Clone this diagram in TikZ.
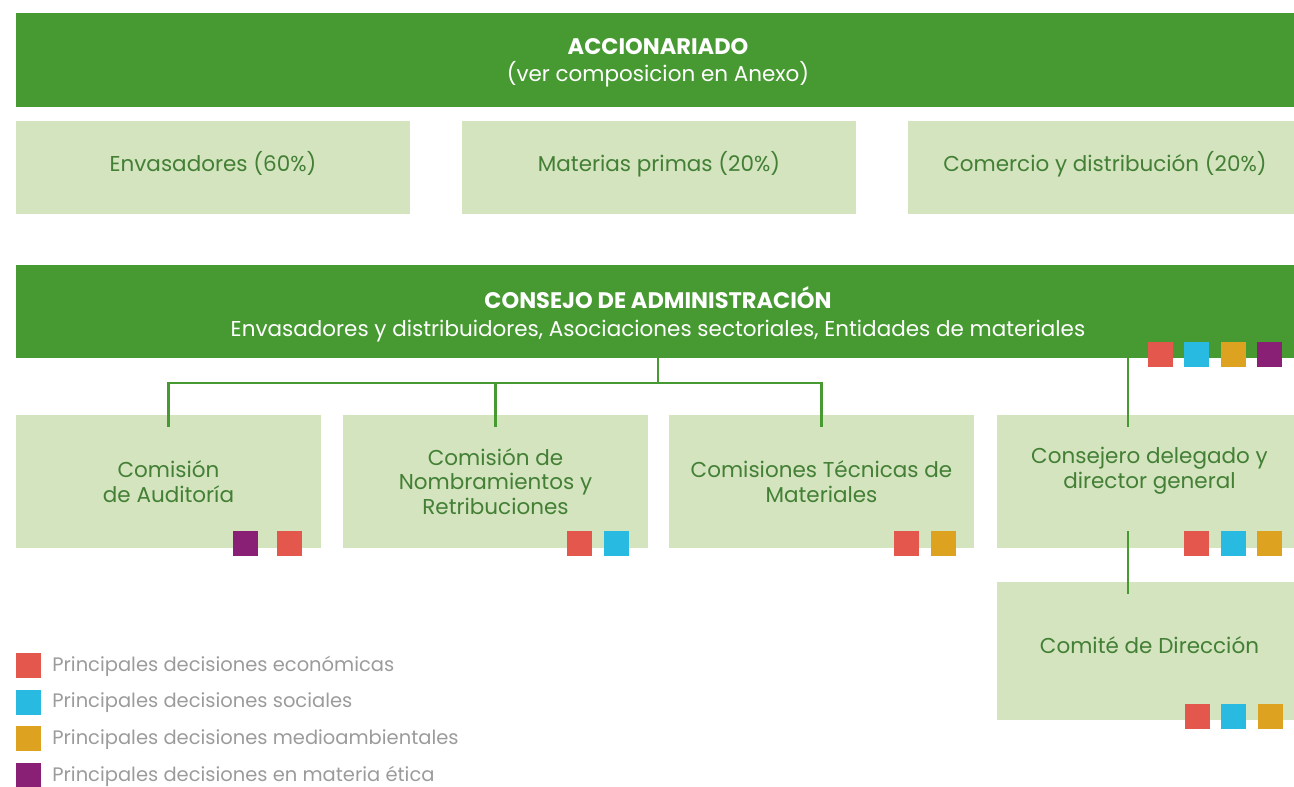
\documentclass[tikz,border=0pt]{standalone}
\usepackage{fontspec}
\setmainfont{Poppins}
\usetikzlibrary{positioning}
\definecolor{bargreen}{HTML}{479A32}
\definecolor{boxgreen}{HTML}{D3E4BE}
\definecolor{txtgreen}{HTML}{437F35}
\definecolor{keyred}{HTML}{E3574D}
\definecolor{keyblue}{HTML}{29BAE1}
\definecolor{keyyellow}{HTML}{DDA220}
\definecolor{keypurple}{HTML}{8A1F76}
\definecolor{keygray}{HTML}{9B9B9B}
\begin{document}
\begin{tikzpicture}[x=1pt,y=-1pt,
    bar/.style={fill=bargreen,text=white,align=center,inner sep=0pt,minimum width=1284pt,text depth=0pt,font=\fontsize{21.5}{27.5}\selectfont},
    box/.style={fill=boxgreen,text=txtgreen,align=center,inner sep=0pt,font=\fontsize{21.5}{24.5}\selectfont},
    sq/.style={minimum size=25pt,inner sep=0pt},
    link/.style={draw=bargreen,line width=2.4pt}]
\useasboundingbox (0,0) rectangle (1294,787);

\node[bar,minimum height=94pt,text depth=-5pt] (acc) at (658,60) {{\fontsize{22.5}{27.5}\selectfont\bfseries ACCIONARIADO}\\(ver composicion en Anexo)};
\node[bar,minimum height=93pt] (cons) at (658,311.5) {{\fontsize{22.5}{27.5}\selectfont\bfseries CONSEJO DE ADMINISTRACIÓN}\\Envasadores y distribuidores, Asociaciones sectoriales, Entidades de materiales};

\begin{scope}[every node/.style={box,minimum width=394pt,minimum height=93pt,text depth=12pt}]
    \node (env) at (213,167.5) {Envasadores (60\%)};
    \node (mat) at (659,167.5) {Materias primas (20\%)};
    \node (com) at (1105,167.5) {Comercio y distribución (20\%)};
\end{scope}

\begin{scope}[every node/.style={box,minimum width=305pt,minimum height=133pt}]
    \node (aud) at (168.5,481.5) {Comisión\\de Auditoría};
    \node (nom) at (495.5,481.5) {Comisión de\\Nombramientos y\\Retribuciones};
    \node (tec) at (821.5,481.5) {Comisiones Técnicas de\\Materiales};
    \node[text depth=27pt] (cde) at (1149.5,481.5) {Consejero delegado y\\director general};
    \node[minimum height=138pt,text depth=11pt] (dir) at (1149.5,651) {Comité de Dirección};
\end{scope}

% conexiones
\coordinate (fork) at ([yshift=-25pt]cons.south);
\coordinate (cdein) at ([xshift=-21.5pt,yshift=-12pt]cde.north);
\draw[link] (cons.south) -- (fork);
\draw[link] (fork) -| ([yshift=-12pt]aud.north);
\draw[link] (fork) -| ([yshift=-12pt]nom.north);
\draw[link] (fork) -| ([yshift=-12pt]tec.north);
\draw[link] (cons.south -| cdein) -- (cdein);
\draw[link] ([xshift=-21.5pt,yshift=17pt]cde.south) -- ([xshift=-21.5pt,yshift=-12pt]dir.north);

% tipos de decision
\begin{scope}[every node/.style={sq}]
    \node[fill=keyred] (consA) at (1160.5,354) {};
    \node[fill=keyblue] (consB) at (1196.5,354) {};
    \node[fill=keyyellow] (consC) at (1233.5,354) {};
    \node[fill=keypurple] (consD) at (1269.5,354) {};
    \node[fill=keypurple] (audA) at (245.5,543.5) {};
    \node[fill=keyred] (audB) at (289.5,543.5) {};
    \node[fill=keyred] (nomA) at (579.5,543.5) {};
    \node[fill=keyblue] (nomB) at (616.5,543.5) {};
    \node[fill=keyred] (tecA) at (906.5,543.5) {};
    \node[fill=keyyellow] (tecB) at (943.5,543.5) {};
    \node[fill=keyred] (cdeA) at (1196.5,543.5) {};
    \node[fill=keyblue] (cdeB) at (1233.5,543.5) {};
    \node[fill=keyyellow] (cdeC) at (1269.5,543.5) {};
    \node[fill=keyred] (dirA) at (1197.5,716.5) {};
    \node[fill=keyblue] (dirB) at (1233.5,716.5) {};
    \node[fill=keyyellow] (dirC) at (1270.5,716.5) {};
\end{scope}

% leyenda
\foreach \c/\t [count=\i] in {keyred/económicas,keyblue/sociales,keyyellow/medioambientales,keypurple/en materia ética} {
    \node[sq,fill=\c] (key\i) at (28.5,{665.5+36.6*(\i-1)}) {};
    \node[right=11pt of key\i,yshift=-1pt,inner sep=0pt,text=keygray,font=\fontsize{19.5}{22}\selectfont] (keytxt\i) {Principales decisiones \t};
}
\end{tikzpicture}
\end{document}
